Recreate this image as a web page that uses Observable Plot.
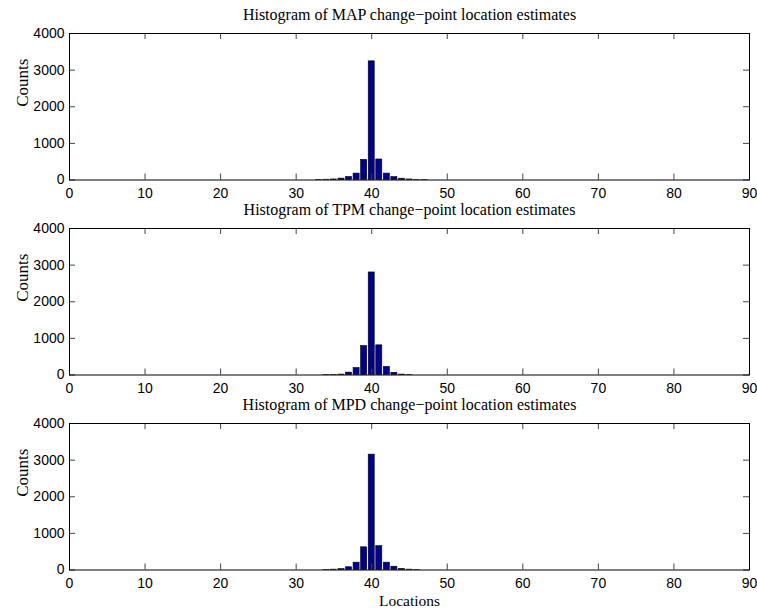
<!DOCTYPE html>
<html>
<head>
<meta charset="utf-8">
<script src="https://cdn.jsdelivr.net/npm/d3@7"></script>
<script src="https://cdn.jsdelivr.net/npm/@observablehq/plot@0.6"></script>
<style>
  body { margin: 0; background: #fff; }
  #chart { position: relative; width: 757px; height: 610px; background: #fff; }
  #chart svg { position: absolute; left: 0; }
</style>
</head>
<body>
<div id="chart"></div>
<script>
// Histogram bins: candidate change-point locations 1..89
const locations = d3.range(1, 90);

// Bins with non-zero counts (all other bins are empty)
const activeBins = [33, 34, 35, 36, 37, 38, 39, 40, 41, 42, 43, 44, 45, 46, 47];
const mapCounts  = [3, 8, 15, 38, 82, 175, 550, 3240, 560, 175, 80, 35, 15, 5, 2];
const tpmCounts  = [0, 3, 4, 12, 65, 190, 790, 2800, 810, 220, 60, 12, 3, 0, 0];
const mpdCounts  = [0, 3, 10, 25, 75, 200, 620, 3150, 650, 200, 90, 30, 10, 3, 0];

const titles = [
  "Histogram of MAP change\u2212point location estimates",
  "Histogram of TPM change\u2212point location estimates",
  "Histogram of MPD change\u2212point location estimates"
];
const panelCounts = [mapCounts, tpmCounts, mpdCounts];

const xTicks = [0, 10, 20, 30, 40, 50, 60, 70, 80, 90];
const yTicks = [0, 1000, 2000, 3000, 4000];
const yLabel = "Counts";
const xLabel = "Locations";

const serif = "'Liberation Serif', 'Times New Roman', serif";
const sans = "'Liberation Sans', Arial, sans-serif";
const barFill = "#00008f";

const W = 757, H = 220;
const mL = 69, mR = 8, mT = 33, mB = 40.5;
const frameW = W - mL - mR, frameH = H - mT - mB;
const tickLen = 6;

const container = document.getElementById("chart");

panelCounts.forEach((counts, i) => {
  const table = locations.map(loc => {
    const k = activeBins.indexOf(loc);
    return {loc, count: k >= 0 ? counts[k] : 0};
  });
  const marks = [
    Plot.rectY(table, {
      x1: d => d.loc - 0.4, x2: d => d.loc + 0.4, y: "count",
      fill: barFill, stroke: "black", strokeWidth: 0.6
    }),
    // inward tick marks on all four sides
    Plot.ruleX(xTicks, {x: d => d, insetTop: frameH - tickLen, stroke: "#444"}),
    Plot.ruleX(xTicks, {x: d => d, insetBottom: frameH - tickLen, stroke: "#444"}),
    Plot.ruleY(yTicks, {y: d => d, insetRight: frameW - tickLen, stroke: "#444"}),
    Plot.ruleY(yTicks, {y: d => d, insetLeft: frameW - tickLen, stroke: "#444"}),
    Plot.frame({stroke: "black", strokeWidth: 1}),
    Plot.axisX(xTicks, {tickSize: 0, tickPadding: 8, fontSize: 14, fontFamily: sans, fill: "black", label: null, tickFormat: d3.format("d")}),
    Plot.axisY(yTicks, {tickSize: 0, tickPadding: 5, fontSize: 14, fontFamily: sans, fill: "black", label: null, tickFormat: d3.format("d")}),
    Plot.text([titles[i]], {
      frameAnchor: "top", dy: -19, lineAnchor: "middle",
      fontFamily: serif, fontSize: 16, fill: "black"
    }),
    Plot.text([yLabel], {
      frameAnchor: "left", dx: -47, rotate: -90,
      fontFamily: serif, fontSize: 17, fill: "black"
    })
  ];
  if (i === panelCounts.length - 1) {
    marks.push(Plot.text([xLabel], {
      frameAnchor: "bottom", dy: 31, lineAnchor: "middle",
      fontFamily: serif, fontSize: 15.5, fill: "black"
    }));
  }
  const svg = Plot.plot({
    width: W, height: H,
    marginLeft: mL, marginRight: mR, marginTop: mT, marginBottom: mB,
    x: {domain: [0, 90], axis: null},
    y: {domain: [0, 4000], axis: null},
    style: {background: "transparent", overflow: "visible", color: "black"},
    marks
  });
  svg.style.top = (i * 195) + "px";
  container.appendChild(svg);
});
</script>
</body>
</html>
